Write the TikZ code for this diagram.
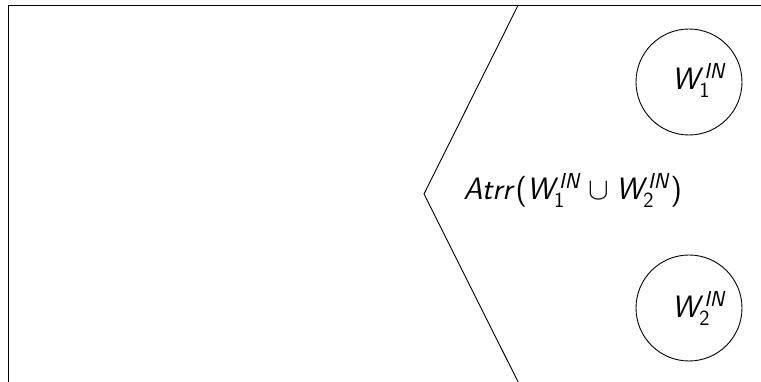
\documentclass[tikz,border=0pt]{standalone}
\usepackage{fix-cm}
\DeclareSymbolFont{sfletters}{OT1}{cmss}{m}{sl}
\DeclareSymbolFont{sfupright}{OT1}{cmss}{m}{n}
\DeclareMathSymbol{A}{\mathalpha}{sfletters}{`A}
\DeclareMathSymbol{t}{\mathalpha}{sfletters}{`t}
\DeclareMathSymbol{r}{\mathalpha}{sfletters}{`r}
\DeclareMathSymbol{W}{\mathalpha}{sfletters}{`W}
\DeclareMathSymbol{I}{\mathalpha}{sfletters}{`I}
\DeclareMathSymbol{N}{\mathalpha}{sfletters}{`N}
\DeclareMathSymbol{1}{\mathalpha}{sfupright}{`1}
\DeclareMathSymbol{2}{\mathalpha}{sfupright}{`2}
\DeclareMathSymbol{(}{\mathopen}{sfupright}{`(}
\DeclareMathSymbol{)}{\mathclose}{sfupright}{`)}
\usetikzlibrary{positioning}

\begin{document}
\begin{tikzpicture}[line width=0.9pt, font={\fontsize{30.8}{37}\selectfont},
  win/.style={draw, circle, minimum size=3.71cm, inner sep=0pt},
  lbl/.style={anchor=base west, inner sep=0pt}]
\useasboundingbox (0,0) rectangle (26.635,13.37);
\coordinate (tl) at (0.28,13.18); \coordinate (tr) at (26.7,13.18); \coordinate (bl) at (0.28,-0.1);
\draw (bl)--(tl)--(tr);
\coordinate (ztop) at (18.13,13.18); \coordinate (zapex) at (14.84,6.58); \coordinate (zbot) at (18.24,-0.21);
\draw (ztop)--(zapex)--(zbot);
\node[win] (C1) at (24.115,10.5) {};
\node[win] (C2) at (24.115,2.59) {};
\node[lbl] (W1) at (23.5,10.22) {$W_1^{IN}$};
\node[lbl] (W2) at (23.5,2.24) {$W_2^{IN}$};
\node[lbl] (atrr) at (16.205,6.37) {$Atrr(W_1^{IN}\cup W_2^{IN})$};
\end{tikzpicture}
\end{document}
